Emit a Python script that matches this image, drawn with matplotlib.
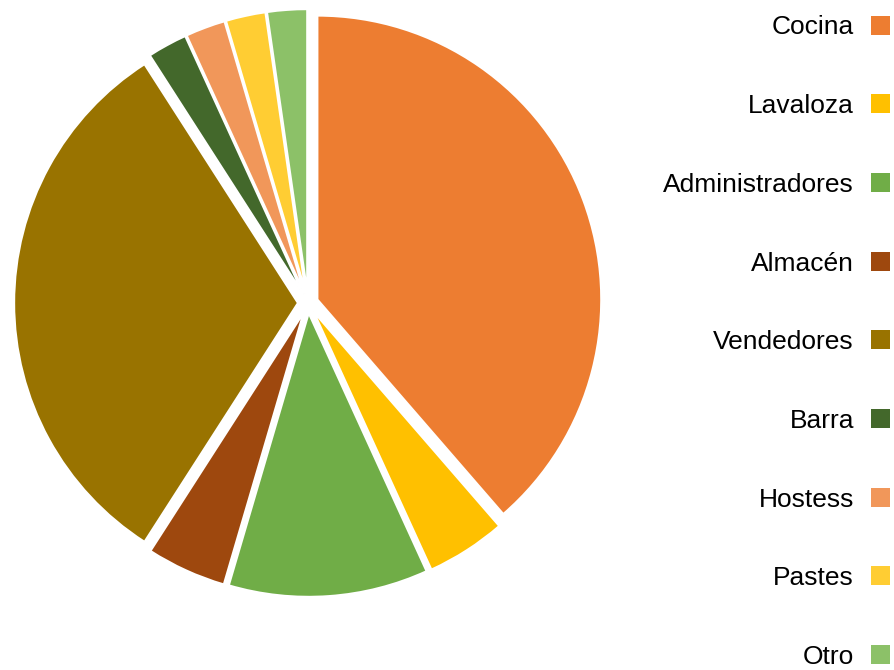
import matplotlib
matplotlib.use("Agg")
import matplotlib.pyplot as plt
from matplotlib.patches import Rectangle

plt.rcParams["font.family"] = ["Liberation Sans", "DejaVu Sans"]

# Personal por área
AREAS = ["Cocina", "Lavaloza", "Administradores", "Almacén", "Vendedores",
         "Barra", "Hostess", "Pastes", "Otro"]
PERSONAS = [17, 2, 5, 2, 14, 1, 1, 1, 1]
COLORES = ["#ED7D31", "#FFC000", "#70AD47", "#9E480E", "#997300",
           "#43682B", "#F1975A", "#FFCD33", "#8CC168"]

W, H = 895, 670
fig = plt.figure(figsize=(W / 100, H / 100), dpi=100)
fig.patch.set_facecolor("white")

# pastel: centro (308, 303) px, radio 284 px
cx, cy, r_px, half = 308, 303, 284, 300
ax = fig.add_axes([(cx - half) / W, (H - cy - half) / H, 2 * half / W, 2 * half / H])
ax.pie(PERSONAS, colors=COLORES, startangle=90, counterclock=False,
       explode=[0.035] * len(PERSONAS),
       wedgeprops=dict(edgecolor="white", linewidth=1.6))
lim = half / r_px
ax.set_xlim(-lim, lim)
ax.set_ylim(-lim, lim)
ax.set_aspect("equal")
ax.axis("off")

# leyenda a la derecha, cuadro después del texto
leg = fig.add_axes([0, 0, 1, 1])
leg.set_xlim(0, W)
leg.set_ylim(H, 0)
leg.axis("off")
for i, (nombre, color) in enumerate(zip(AREAS, COLORES)):
    yc = 25 + 78.7 * i
    leg.text(854, yc + 9.5, nombre, ha="right", va="baseline", fontsize=19, color="black")
    leg.add_patch(Rectangle((871, yc - 9.5), 19, 19, facecolor=color, edgecolor="none",
                            clip_on=False))

fig.savefig("out.png", dpi=100, facecolor="white")
